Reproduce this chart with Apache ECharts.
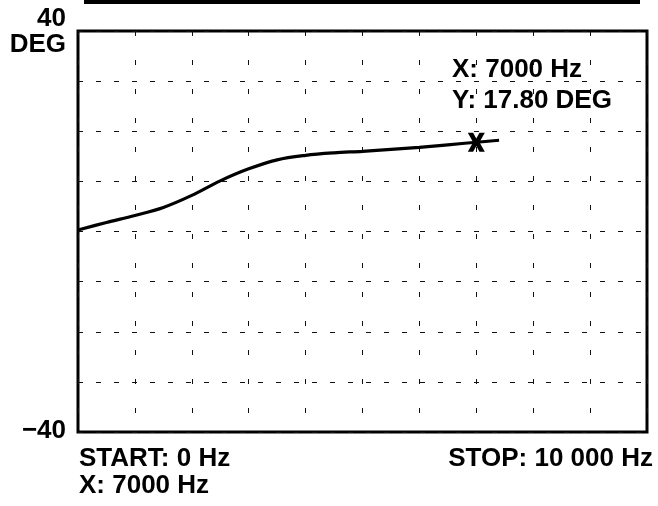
<!DOCTYPE html>
<html>
<head>
<meta charset="utf-8">
<script src="https://cdn.jsdelivr.net/npm/echarts@6/dist/echarts.min.js"></script>
<style>
  html, body { margin: 0; padding: 0; background: #fff; }
  #chart { width: 658px; height: 506px; }
</style>
</head>
<body>
<div id="chart"></div>
<script>
// Phase response of the measured network, 0 to 10 kHz
var freqHz = [0, 500, 1000, 1500, 2000, 2500, 3000, 3500, 4000, 4500, 5000, 5500, 6000, 6500, 7000, 7400];
var phaseDeg = [0.3, 1.8, 3.2, 4.8, 7.2, 10.1, 12.5, 14.3, 15.2, 15.7, 16.0, 16.4, 16.8, 17.3, 17.8, 18.2];

// Marker readout
var markerHz = 7000;
var markerDeg = 17.80;

// Axis range
var xStart = 0, xStop = 10000, xStep = 1000;
var yTop = 40, yBottom = -40, yStep = 10;

var FONT = '"Liberation Sans", Arial, Helvetica, sans-serif';

function fmtHz(v) {
  var s = String(v);
  if (v >= 10000) s = s.slice(0, s.length - 3) + ' ' + s.slice(-3);
  return s + ' Hz';
}

var chart = echarts.init(document.getElementById('chart'));

function txt(x, y, s, align, size, extra) {
  var o = {
    type: 'text', x: x, y: y,
    style: {
      text: s, fill: '#000', font: 'bold ' + (size || 26) + 'px ' + FONT,
      textAlign: align || 'left', textVerticalAlign: 'middle'
    }
  };
  if (extra) for (var k in extra) o[k] = extra[k];
  return o;
}

var option = {
  backgroundColor: '#fff',
  animation: false,
  grid: {
    left: 78, top: 31, width: 569, height: 401,
    show: true, borderColor: '#000', borderWidth: 3, backgroundColor: 'transparent'
  },
  xAxis: {
    type: 'value', min: xStart, max: xStop, interval: xStep,
    axisLine: { show: false }, axisTick: { show: false }, axisLabel: { show: false },
    splitLine: { show: true, lineStyle: { color: '#111', width: 1, type: [5, 24] } }
  },
  yAxis: {
    type: 'value', min: yBottom, max: yTop, interval: yStep,
    axisLine: { show: false }, axisTick: { show: false }, axisLabel: { show: false },
    splitLine: { show: true, lineStyle: { color: '#111', width: 1, type: [5, 13] } }
  },
  series: [
    {
      type: 'line',
      data: freqHz.map(function (f, i) { return [f, phaseDeg[i]]; }),
      smooth: 0.35,
      showSymbol: false,
      lineStyle: { color: '#000', width: 3.2 },
      z: 3
    },
    {
      type: 'scatter',
      data: [[markerHz, markerDeg]],
      symbol: 'path://M0,0 L5,0 L8,5.5 L11,0 L16,0 L11,9 L16,18 L11,18 L8,12.5 L5,18 L0,18 L5,9 Z',
      symbolSize: [17, 19],
      itemStyle: { color: '#000', opacity: 1 },
      z: 4
    }
  ],
  graphic: [
    { type: 'rect', shape: { x: 84, y: 0, width: 556, height: 4 }, style: { fill: '#000' } },
    txt(66, 19, String(yTop), 'right'),
    txt(66, 45, 'DEG', 'right'),
    txt(66, 431, '\u2212' + Math.abs(yBottom), 'right'),
    txt(54, 206, yStep + ' DEG/DIV', 'center', 27, { rotation: Math.PI / 2, originX: 54, originY: 206 }),
    txt(79, 459, 'START: ' + fmtHz(xStart), 'left'),
    txt(79, 486, 'X: ' + fmtHz(markerHz), 'left'),
    txt(653, 459, 'STOP: ' + fmtHz(xStop), 'right'),
    txt(452, 70, 'X: ' + fmtHz(markerHz), 'left'),
    txt(452, 101, 'Y: ' + markerDeg.toFixed(2) + ' DEG', 'left')
  ]
};

chart.setOption(option);
</script>
</body>
</html>
